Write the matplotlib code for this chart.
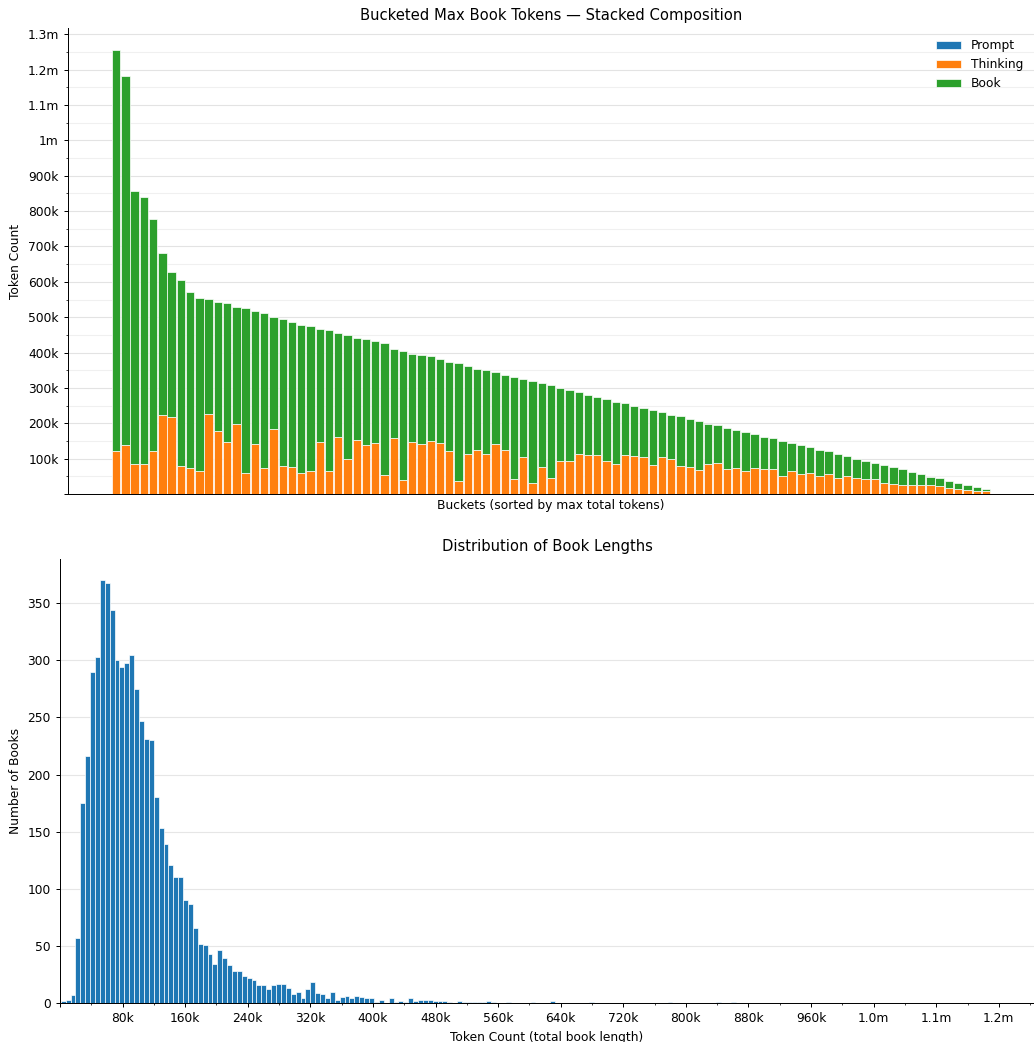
import numpy as np
import matplotlib
matplotlib.use("Agg")
import matplotlib.pyplot as plt
from matplotlib.ticker import MultipleLocator, FuncFormatter

# ---------------- data: top chart (values in thousands of tokens) ----------------
# cumulative top of the thinking segment (prompt + thinking) and bucket total
TOTAL_K = [1255, 1182, 858, 841, 778, 681, 628, 606, 572, 555,
           552, 542, 539, 529, 526, 517, 511, 500, 494, 487,
           479, 475, 467, 464, 455, 449, 442, 437, 432, 426,
           411, 404, 397, 392, 389, 381, 374, 370, 361, 354,
           351, 344, 337, 331, 326, 320, 314, 307, 299, 294,
           287, 281, 274, 269, 261, 256, 248, 244, 237, 231,
           224, 219, 212, 206, 199, 194, 187, 181, 175, 169,
           161, 157, 149, 144, 137, 132, 125, 120, 112, 108,
           99, 94, 87, 82, 75, 70, 62, 57, 49, 44,
           37, 32, 25, 19, 13]
THINK_TOP_K = [122, 137, 85, 85, 120, 222, 217, 80, 73, 65,
               225, 179, 148, 197, 58, 142, 73, 185, 80, 77,
               58, 65, 147, 65, 160, 98, 153, 137, 144, 53,
               158, 40, 147, 142, 149, 143, 122, 37, 114, 125,
               114, 142, 125, 42, 105, 32, 76, 45, 92, 92,
               114, 109, 109, 93, 85, 111, 108, 105, 82, 105,
               98, 79, 76, 68, 85, 87, 70, 72, 66, 74,
               70, 70, 52, 65, 55, 59, 52, 55, 45, 52,
               45, 41, 41, 32, 29, 26, 26, 26, 25, 22,
               17, 14, 11, 9, 7]
PROMPT_K = [0.5] * len(TOTAL_K)

# ---------------- data: histogram ----------------
HIST_START = 1000        # left edge of first bin (tokens)
HIST_BIN_WIDTH = 6255    # tokens per bin
HIST_COUNTS = [2, 3, 7, 57, 175, 216, 290, 303, 370, 368,
               344, 300, 294, 298, 305, 275, 247, 231, 230, 180,
               153, 139, 121, 110, 110, 90, 87, 66, 52, 51,
               43, 34, 46, 39, 33, 28, 28, 24, 22, 20,
               16, 16, 12, 16, 17, 17, 13, 8, 10, 4,
               12, 18, 9, 8, 4, 10, 3, 5, 6, 4,
               6, 5, 4, 4, 1, 3, 0, 4, 1, 2,
               1, 4, 2, 3, 3, 3, 2, 2, 2, 1,
               0, 2, 1, 1, 1, 1, 1, 2, 1, 0,
               0, 1, 0, 0, 0, 0, 1, 0, 0, 0,
               2, 0, 0, 0, 0, 0, 0, 0, 1, 0,
               0, 0, 0, 0, 0, 0, 0, 0, 0, 0,
               0, 0, 0, 0, 1, 0, 0, 0, 0, 0,
               0, 0, 0, 0, 1, 0, 0, 1, 0, 0,
               0, 0, 0, 0, 0, 0, 0, 0, 0, 0,
               0, 0, 0, 0, 0, 0, 0, 0, 0, 0,
               0, 0, 0, 0, 0, 0, 0, 0, 0, 0,
               0, 0, 0, 0, 0, 0, 0, 0, 0, 0,
               0, 0, 0, 0, 0, 0, 0, 0, 0]

LEGEND = ["Prompt", "Thinking", "Book"]
COLORS = ["#1f77b4", "#ff7f0e", "#2ca02c"]

# ---------------- style ----------------
S = 0.885
plt.rcParams.update({
    "font.size": 10 * S,
    "axes.titlesize": 12 * S,
    "axes.linewidth": 0.8 * S,
    "xtick.major.size": 3.5 * S,
    "ytick.major.size": 3.5 * S,
    "xtick.minor.size": 2 * S,
    "ytick.minor.size": 2 * S,
    "xtick.major.width": 0.8 * S,
    "ytick.major.width": 0.8 * S,
    "xtick.minor.width": 0.6 * S,
    "ytick.minor.width": 0.6 * S,
})

# ---------------- derived ----------------
total = np.array(TOTAL_K) * 1000.0
prompt = np.array(PROMPT_K) * 1000.0
thinking = np.array(THINK_TOP_K) * 1000.0 - prompt
book = total - prompt - thinking
x = np.arange(len(total))

counts = np.array(HIST_COUNTS)
lefts = HIST_START + np.arange(len(counts)) * HIST_BIN_WIDTH

fig = plt.figure(figsize=(10.34, 10.42), dpi=100)
ax1 = fig.add_axes([0.0658, 0.526, 0.9342, 0.447])
ax2 = fig.add_axes([0.058, 0.0374, 0.942, 0.426])

# ---------------- top chart ----------------
kw = dict(width=0.9, edgecolor="white", linewidth=0.5)
ax1.bar(x, prompt, color=COLORS[0], label=LEGEND[0], **kw)
ax1.bar(x, thinking, bottom=prompt, color=COLORS[1], label=LEGEND[1], **kw)
ax1.bar(x, book, bottom=prompt + thinking, color=COLORS[2], label=LEGEND[2], **kw)

def top_fmt(v, pos):
    if v <= 0:
        return ""
    if v >= 1e6:
        return f"{v/1e6:g}m"
    return f"{v/1e3:g}k"

ax1.yaxis.set_major_locator(MultipleLocator(100000))
ax1.yaxis.set_minor_locator(MultipleLocator(50000))
ax1.yaxis.set_major_formatter(FuncFormatter(top_fmt))
ax1.set_ylim(0, total.max() * 1.05)
ax1.set_xticks([])
ax1.grid(axis="y", which="major", color="#e3e3e3", linewidth=0.8)
ax1.grid(axis="y", which="minor", color="#f0f0f0", linewidth=0.8)
ax1.set_axisbelow(True)
for s in ["top", "right"]:
    ax1.spines[s].set_visible(False)
ax1.set_title("Bucketed Max Book Tokens — Stacked Composition")
ax1.set_ylabel("Token Count")
ax1.set_xlabel("Buckets (sorted by max total tokens)")
ax1.legend(loc="upper right", frameon=False)

# ---------------- bottom chart ----------------
ax2.bar(lefts, counts, width=HIST_BIN_WIDTH, align="edge", color=COLORS[0],
        edgecolor="white", linewidth=0.5)

def bot_fmt(v, pos):
    if v <= 0:
        return ""
    if v >= 1e6:
        return f"{v/1e6:.1f}m"
    return f"{v/1e3:.0f}k"

ax2.xaxis.set_major_locator(MultipleLocator(80000))
ax2.xaxis.set_minor_locator(MultipleLocator(40000))
ax2.xaxis.set_major_formatter(FuncFormatter(bot_fmt))
ax2.yaxis.set_major_locator(MultipleLocator(50))
ax2.set_xlim(0, 1245000)
ax2.set_ylim(0, counts.max() * 1.05)
ax2.grid(axis="y", which="major", color="#e6e6e6", linewidth=0.8)
ax2.set_axisbelow(True)
for s in ["top", "right"]:
    ax2.spines[s].set_visible(False)
ax2.set_title("Distribution of Book Lengths")
ax2.set_ylabel("Number of Books")
ax2.set_xlabel("Token Count (total book length)")

fig.savefig("out.png", dpi=100)
